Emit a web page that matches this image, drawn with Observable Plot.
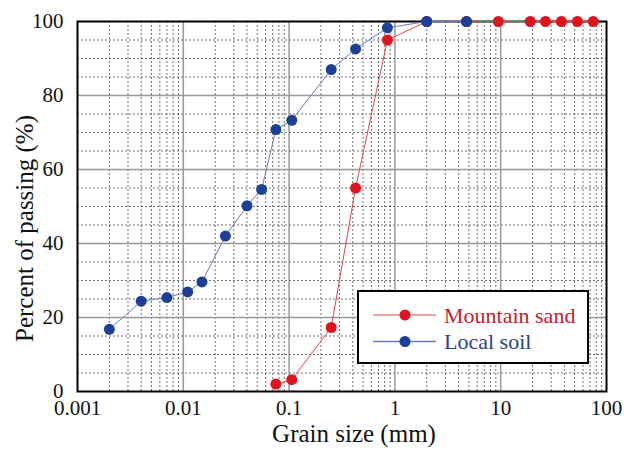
<!DOCTYPE html>
<html>
<head>
<meta charset="utf-8">
<script src="https://cdn.jsdelivr.net/npm/d3@7"></script>
<script src="https://cdn.jsdelivr.net/npm/@observablehq/plot@0.6"></script>
<style>
  html, body { margin: 0; padding: 0; background: #fff; }
  #chart { width: 624px; height: 453px; }
  #chart svg, #chart svg text { font-family: "Liberation Serif", "Times New Roman", serif !important; }
</style>
</head>
<body>
<div id="chart"></div>
<script>
// Sieve / hydrometer sizes (mm) and percent passing
const sandSize = [0.075, 0.106, 0.25, 0.425, 0.85, 2, 4.75, 9.5, 19, 26.5, 37.5, 53, 75];
const sandPassing = [2.0, 3.2, 17.3, 55.0, 95.0, 100, 100, 100, 100, 100, 100, 100, 100];

const soilSize = [0.002, 0.004, 0.007, 0.011, 0.015, 0.025, 0.04, 0.055, 0.075, 0.106, 0.25, 0.425, 0.85, 2, 4.75];
const soilPassing = [16.8, 24.4, 25.4, 26.9, 29.6, 42.0, 50.2, 54.6, 70.8, 73.3, 87.0, 92.6, 98.3, 100, 100];

const seriesNames = ["Mountain sand", "Local soil"];
const xTicks = [0.001, 0.01, 0.1, 1, 10, 100];
const xTickLabels = ["0.001", "0.01", "0.1", "1", "10", "100"];
const yTicks = [0, 20, 40, 60, 80, 100];

const sand = sandSize.map((d, i) => ({size: d, passing: sandPassing[i]}));
const soil = soilSize.map((d, i) => ({size: d, passing: soilPassing[i]}));

const RED = "#e0141f", RED_LINE = "#d8484e";
const BLUE = "#1c3f98", BLUE_LINE = "#6c7eb2";

// log-cycle grid: 2..9 within each decade, every 5 % vertically
const minorX = d3.range(-3, 2).flatMap(e => d3.range(2, 10).map(k => k * Math.pow(10, e)));
const majorX = [0.01, 0.1, 1, 10];
const minorY = d3.range(5, 100, 5).filter(v => v % 20 !== 0);
const majorY = [20, 40, 60, 80];

const font = "Liberation Serif, Times New Roman, serif";

const chart = Plot.plot({
  width: 624,
  height: 453,
  marginLeft: 77,
  marginRight: 18,
  marginTop: 21,
  marginBottom: 62,
  style: {fontFamily: font, fontSize: "21px", color: "#111", background: "#fff"},
  x: {type: "log", domain: [0.001, 100]},
  y: {domain: [0, 100]},
  marks: [
    Plot.ruleX(minorX, {stroke: "#333", strokeWidth: 1, strokeDasharray: "2,2", strokeOpacity: 0.7}),
    Plot.ruleY(minorY, {stroke: "#333", strokeWidth: 1, strokeDasharray: "2,2", strokeOpacity: 0.7}),
    Plot.ruleX(majorX, {stroke: "#999", strokeWidth: 1.5}),
    Plot.ruleY(majorY, {stroke: "#999", strokeWidth: 1.5}),
    Plot.frame({stroke: "#000", strokeWidth: 2}),
    Plot.axisX({
      ticks: xTicks,
      tickFormat: (d) => xTickLabels[xTicks.indexOf(d)],
      tickSize: 0,
      tickPadding: 9,
      label: null,
      fontSize: 21
    }),
    Plot.axisY({
      ticks: yTicks,
      tickSize: 0,
      tickPadding: 14,
      label: null,
      fontSize: 21
    }),
    Plot.text(["Grain size (mm)"], {frameAnchor: "bottom", textAnchor: "middle", dx: 12, dy: 50, fontSize: 25, fill: "#111"}),
    Plot.text(["Percent of passing (%)"], {frameAnchor: "left", textAnchor: "middle", rotate: -90, dx: -53, dy: 22, fontSize: 25, fill: "#111"}),
    Plot.line(sand, {x: "size", y: "passing", stroke: RED_LINE, strokeWidth: 1}),
    Plot.dot(sand, {x: "size", y: "passing", r: 5.5, fill: RED, stroke: "none"}),
    Plot.line(soil, {x: "size", y: "passing", stroke: BLUE_LINE, strokeWidth: 1}),
    Plot.dot(soil, {x: "size", y: "passing", r: 5.5, fill: BLUE, stroke: "none"})
  ]
});

// Legend box in the lower right of the plotting area
const svg = d3.select(chart);
const lg = svg.append("g").attr("transform", "translate(358,291)");
lg.append("rect")
  .attr("width", 230).attr("height", 72)
  .attr("fill", "#fff").attr("stroke", "#000").attr("stroke-width", 2);
const entries = [
  {name: seriesNames[0], line: RED_LINE, dot: RED, text: "#c4202b"},
  {name: seriesNames[1], line: BLUE_LINE, dot: BLUE, text: "#2b4291"}
];
entries.forEach((e, i) => {
  const y = 24 + i * 26.5;
  lg.append("line").attr("x1", 15).attr("x2", 78).attr("y1", y).attr("y2", y)
    .attr("stroke", e.line).attr("stroke-width", i === 0 ? 1 : 1.6);
  lg.append("circle").attr("cx", 47).attr("cy", y).attr("r", 5.5).attr("fill", e.dot);
  lg.append("text").attr("x", 86).attr("y", y).attr("dy", "0.35em")
    .attr("text-anchor", "start")
    .style("font-size", "22px").attr("fill", e.text)
    .text(e.name);
});

document.getElementById("chart").appendChild(chart);
</script>
</body>
</html>
